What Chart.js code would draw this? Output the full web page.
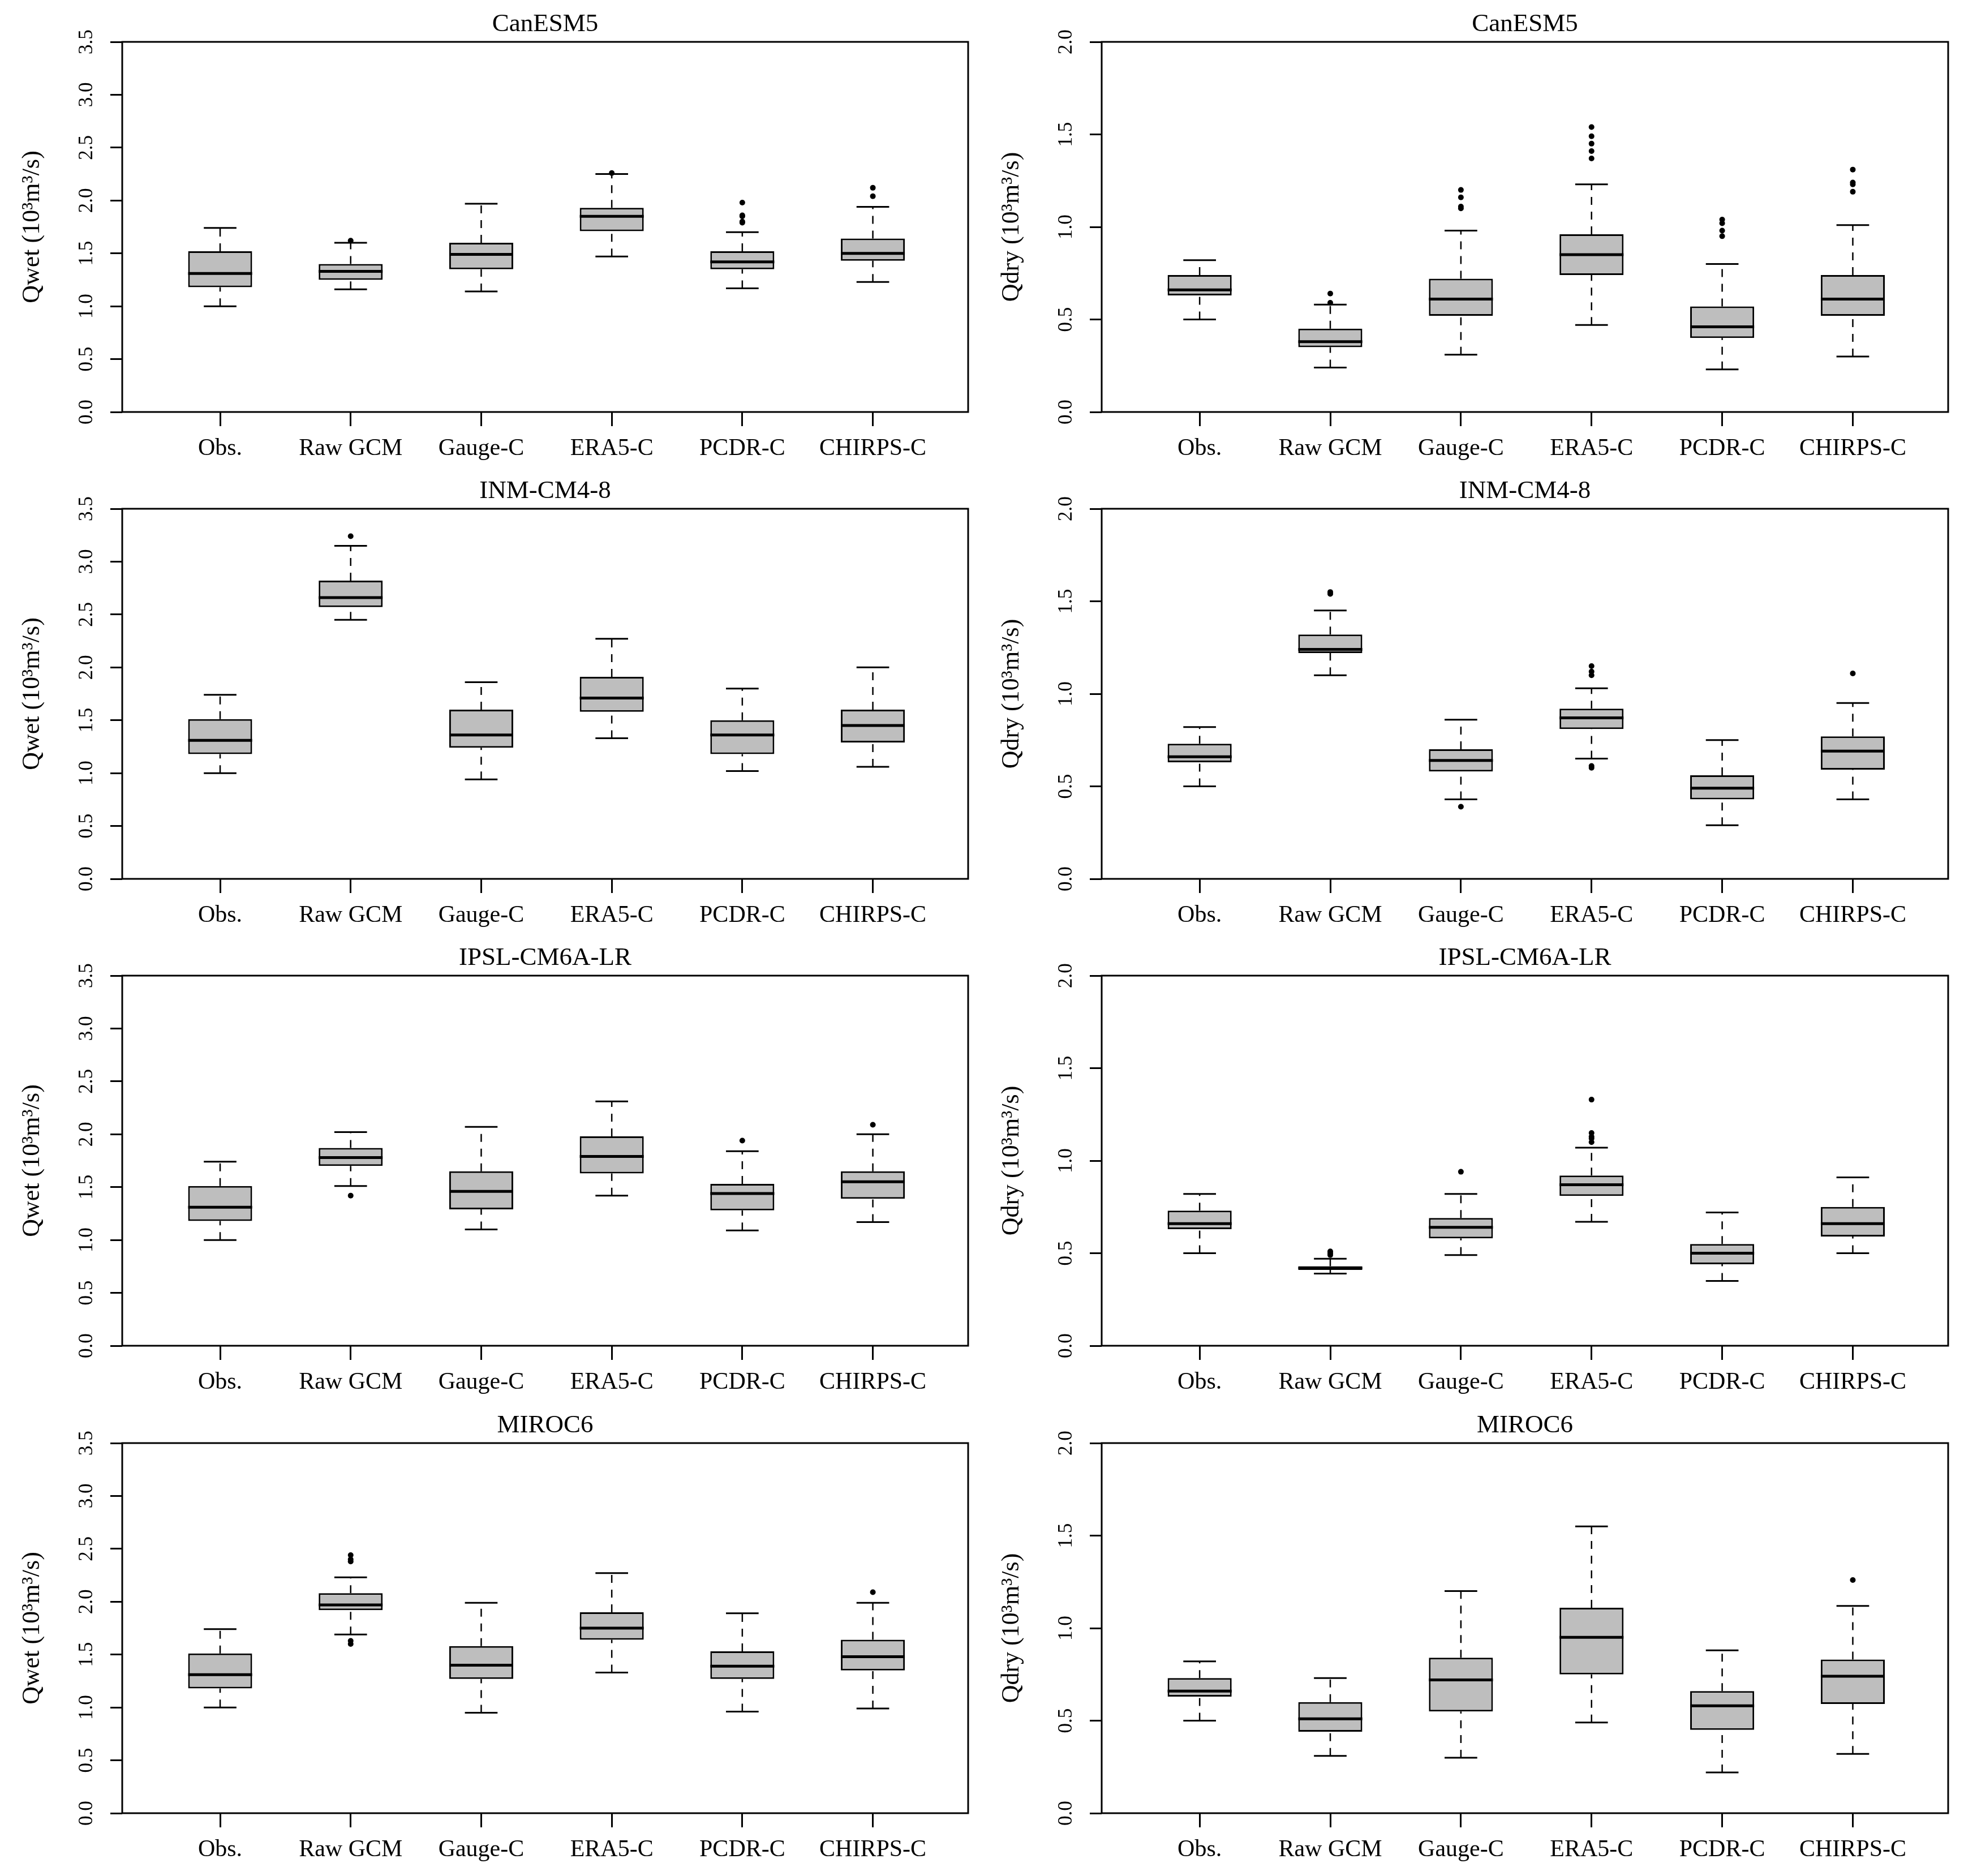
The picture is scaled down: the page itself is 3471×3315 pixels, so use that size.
<!DOCTYPE html>
<html>
<head>
<meta charset="utf-8">
<title>Qwet / Qdry boxplots</title>
<script src="https://cdn.jsdelivr.net/npm/chart.js@4.4.1/dist/chart.umd.min.js"></script>
<style>
  html, body { margin: 0; padding: 0; background: #fff; }
  #page { position: relative; width: 3471px; height: 3315px; overflow: hidden; }
  #page canvas { position: absolute; }
</style>
</head>
<body>
<div id="page"></div>
<script>
const categories = ['Obs.', 'Raw GCM', 'Gauge-C', 'ERA5-C', 'PCDR-C', 'CHIRPS-C'];
const models = ['CanESM5', 'INM-CM4-8', 'IPSL-CM6A-LR', 'MIROC6'];
const wetTicks = [0.0, 0.5, 1.0, 1.5, 2.0, 2.5, 3.0, 3.5];
const dryTicks = [0.0, 0.5, 1.0, 1.5, 2.0];
const wetLabel = 'Qwet (10³m³/s)';
const dryLabel = 'Qdry (10³m³/s)';

// per category: [lower whisker, Q1, median, Q3, upper whisker]
const canesmWet = [
  [1.00, 1.18, 1.31, 1.52, 1.74],
  [1.16, 1.25, 1.33, 1.40, 1.60],
  [1.14, 1.35, 1.49, 1.60, 1.97],
  [1.47, 1.71, 1.85, 1.93, 2.25],
  [1.17, 1.35, 1.42, 1.52, 1.70],
  [1.23, 1.43, 1.50, 1.64, 1.94]
];
const canesmWetOut = [[], [1.62], [], [2.26], [1.98, 1.86, 1.85, 1.80, 1.79], [2.12, 2.04]];

const canesmDry = [
  [0.50, 0.63, 0.66, 0.74, 0.82],
  [0.24, 0.35, 0.38, 0.45, 0.58],
  [0.31, 0.52, 0.61, 0.72, 0.98],
  [0.47, 0.74, 0.85, 0.96, 1.23],
  [0.23, 0.40, 0.46, 0.57, 0.80],
  [0.30, 0.52, 0.61, 0.74, 1.01]
];
const canesmDryOut = [[], [0.64, 0.59], [1.20, 1.16, 1.11, 1.10], [1.54, 1.49, 1.45, 1.41, 1.37],
  [1.04, 1.02, 0.98, 0.95], [1.31, 1.24, 1.23, 1.19]];

const inmWet = [
  [1.00, 1.18, 1.31, 1.51, 1.74],
  [2.45, 2.57, 2.66, 2.82, 3.15],
  [0.94, 1.24, 1.36, 1.60, 1.86],
  [1.33, 1.58, 1.71, 1.91, 2.27],
  [1.02, 1.18, 1.36, 1.50, 1.80],
  [1.06, 1.29, 1.45, 1.60, 2.00]
];
const inmWetOut = [[], [3.24], [], [], [], []];

const inmDry = [
  [0.50, 0.63, 0.66, 0.73, 0.82],
  [1.10, 1.22, 1.24, 1.32, 1.45],
  [0.43, 0.58, 0.64, 0.70, 0.86],
  [0.65, 0.81, 0.87, 0.92, 1.03],
  [0.29, 0.43, 0.49, 0.56, 0.75],
  [0.43, 0.59, 0.69, 0.77, 0.95]
];
const inmDryOut = [[], [1.55, 1.54], [0.39], [1.15, 1.12, 1.10, 0.61, 0.60], [], [1.11]];

const ipslWet = [
  [1.00, 1.18, 1.31, 1.51, 1.74],
  [1.51, 1.70, 1.78, 1.87, 2.02],
  [1.10, 1.29, 1.46, 1.65, 2.07],
  [1.42, 1.63, 1.79, 1.98, 2.31],
  [1.09, 1.28, 1.44, 1.53, 1.84],
  [1.17, 1.39, 1.55, 1.65, 2.00]
];
const ipslWetOut = [[], [1.42], [], [], [1.94], [2.09]];

const ipslDry = [
  [0.50, 0.63, 0.66, 0.73, 0.82],
  [0.39, 0.41, 0.42, 0.43, 0.47],
  [0.49, 0.58, 0.64, 0.69, 0.82],
  [0.67, 0.81, 0.87, 0.92, 1.07],
  [0.35, 0.44, 0.50, 0.55, 0.72],
  [0.50, 0.59, 0.66, 0.75, 0.91]
];
const ipslDryOut = [[], [0.51, 0.50, 0.49], [0.94], [1.33, 1.15, 1.13, 1.12, 1.10], [], []];

const mirocWet = [
  [1.00, 1.18, 1.31, 1.51, 1.74],
  [1.69, 1.92, 1.97, 2.08, 2.23],
  [0.95, 1.27, 1.40, 1.58, 1.99],
  [1.33, 1.64, 1.75, 1.90, 2.27],
  [0.96, 1.27, 1.39, 1.53, 1.89],
  [0.99, 1.35, 1.48, 1.64, 1.99]
];
const mirocWetOut = [[], [2.44, 2.40, 2.38, 1.63, 1.60], [], [], [], [2.09]];

const mirocDry = [
  [0.50, 0.63, 0.66, 0.73, 0.82],
  [0.31, 0.44, 0.51, 0.60, 0.73],
  [0.30, 0.55, 0.72, 0.84, 1.20],
  [0.49, 0.75, 0.95, 1.11, 1.55],
  [0.22, 0.45, 0.58, 0.66, 0.88],
  [0.32, 0.59, 0.74, 0.83, 1.12]
];
const mirocDryOut = [[], [], [], [], [], [1.26]];

const panels = [
  { title: models[0], stats: canesmWet, out: canesmWetOut, ticks: wetTicks, label: wetLabel },
  { title: models[0], stats: canesmDry, out: canesmDryOut, ticks: dryTicks, label: dryLabel },
  { title: models[1], stats: inmWet, out: inmWetOut, ticks: wetTicks, label: wetLabel },
  { title: models[1], stats: inmDry, out: inmDryOut, ticks: dryTicks, label: dryLabel },
  { title: models[2], stats: ipslWet, out: ipslWetOut, ticks: wetTicks, label: wetLabel },
  { title: models[2], stats: ipslDry, out: ipslDryOut, ticks: dryTicks, label: dryLabel },
  { title: models[3], stats: mirocWet, out: mirocWetOut, ticks: wetTicks, label: wetLabel },
  { title: models[3], stats: mirocDry, out: mirocDryOut, ticks: dryTicks, label: dryLabel }
];

// layout
const SERIF = '"Liberation Serif", "Times New Roman", serif';
const rowTops = [0, 825, 1650, 2476];
const canvasH = 826;
const colLeft = [0, 1735];
const colW = [1735, 1736];
const yAxisW = [216, 212];
const padRight = [24, 28];
const BOX_HALF = 0.245;
const CAP_HALF = 0.125;

const framePlugin = {
  id: 'frame',
  afterDatasetsDraw(chart) {
    const { ctx, chartArea: a } = chart;
    ctx.save();
    ctx.strokeStyle = '#000';
    ctx.lineWidth = 3;
    ctx.strokeRect(a.left, a.top, a.right - a.left, a.bottom - a.top);
    ctx.restore();
  }
};

function buildDatasets(stats, out) {
  const boxes = [], whiskers = [], caps = [], medians = [], points = [];
  stats.forEach((s, i) => {
    const x = i + 1;
    boxes.push({ x: x, y: [s[1], s[3]] });
    whiskers.push({ x: x, y: s[0] }, { x: x, y: s[1] }, { x: x, y: null },
                  { x: x, y: s[3] }, { x: x, y: s[4] }, { x: x, y: null });
    caps.push({ x: x - CAP_HALF, y: s[0] }, { x: x + CAP_HALF, y: s[0] }, { x: x, y: null },
              { x: x - CAP_HALF, y: s[4] }, { x: x + CAP_HALF, y: s[4] }, { x: x, y: null });
    medians.push({ x: x - BOX_HALF, y: s[2] }, { x: x + BOX_HALF, y: s[2] }, { x: x, y: null });
    out[i].forEach(v => points.push({ x: x, y: v }));
  });
  const lineBase = { type: 'line', borderColor: '#000', pointRadius: 0, fill: false,
                     tension: 0, spanGaps: false, borderCapStyle: 'butt' };
  return [
    Object.assign({}, lineBase, { data: medians, borderWidth: 5, order: 0 }),
    { type: 'scatter', data: points, pointRadius: 5, pointStyle: 'circle',
      backgroundColor: '#000', borderWidth: 0, order: 1 },
    { type: 'bar', data: boxes, backgroundColor: '#bebebe', borderColor: '#000',
      borderWidth: 3, borderSkipped: false, barPercentage: 0.49, categoryPercentage: 1, order: 2 },
    Object.assign({}, lineBase, { data: caps, borderWidth: 3, order: 3 }),
    Object.assign({}, lineBase, { data: whiskers, borderWidth: 2.5, borderDash: [14, 12], order: 4 })
  ];
}

const page = document.getElementById('page');

panels.forEach((p, k) => {
  const row = Math.floor(k / 2);
  const col = k % 2;
  const canvas = document.createElement('canvas');
  canvas.width = colW[col];
  canvas.height = canvasH;
  canvas.style.left = colLeft[col] + 'px';
  canvas.style.top = rowTops[row] + 'px';
  canvas.style.width = colW[col] + 'px';
  canvas.style.height = canvasH + 'px';
  page.appendChild(canvas);

  const yW = yAxisW[col];
  new Chart(canvas.getContext('2d'), {
    type: 'bar',
    data: { datasets: buildDatasets(p.stats, p.out) },
    options: {
      responsive: false,
      animation: false,
      devicePixelRatio: 1,
      events: [],
      layout: { padding: { left: 0, right: padRight[col], top: 0, bottom: 0 } },
      plugins: {
        legend: { display: false },
        tooltip: { enabled: false },
        title: {
          display: true,
          text: p.title,
          fullSize: false,
          color: '#000',
          font: { family: SERIF, size: 45, weight: 'normal', lineHeight: 1.2 },
          padding: { top: 16, bottom: 4 }
        }
      },
      scales: {
        x: {
          type: 'linear',
          min: 0.25,
          max: 6.73,
          offset: false,
          afterFit: (s) => { s.height = 98; },
          afterBuildTicks: (s) => { s.ticks = categories.map((c, i) => ({ value: i + 1 })); },
          grid: { display: true, offset: false, drawOnChartArea: false, drawTicks: true,
                  tickLength: 25, color: '#000', lineWidth: 3 },
          border: { display: false },
          ticks: {
            autoSkip: false, maxRotation: 0, minRotation: 0, padding: 15, color: '#000',
            font: { family: SERIF, size: 42 },
            callback: (v) => categories[Math.round(v) - 1]
          }
        },
        y: {
          type: 'linear',
          min: p.ticks[0],
          max: p.ticks[p.ticks.length - 1],
          afterFit: (s) => { s.width = yW; },
          afterBuildTicks: (s) => { s.ticks = p.ticks.map(v => ({ value: v })); },
          grid: { display: true, offset: false, drawOnChartArea: false, drawTicks: true,
                  tickLength: 21, color: '#000', lineWidth: 3 },
          border: { display: false },
          ticks: {
            minRotation: 90, maxRotation: 90, crossAlign: 'center', padding: 19, color: '#000',
            font: { family: SERIF, size: 35 },
            callback: (v) => Number(v).toFixed(1)
          },
          title: {
            display: true,
            text: p.label,
            color: '#000',
            font: { family: SERIF, size: 44, lineHeight: 1.2 },
            padding: { top: yW - 159 - 26.4, bottom: 0 }
          }
        }
      }
    },
    plugins: [framePlugin]
  });
});
</script>
</body>
</html>
